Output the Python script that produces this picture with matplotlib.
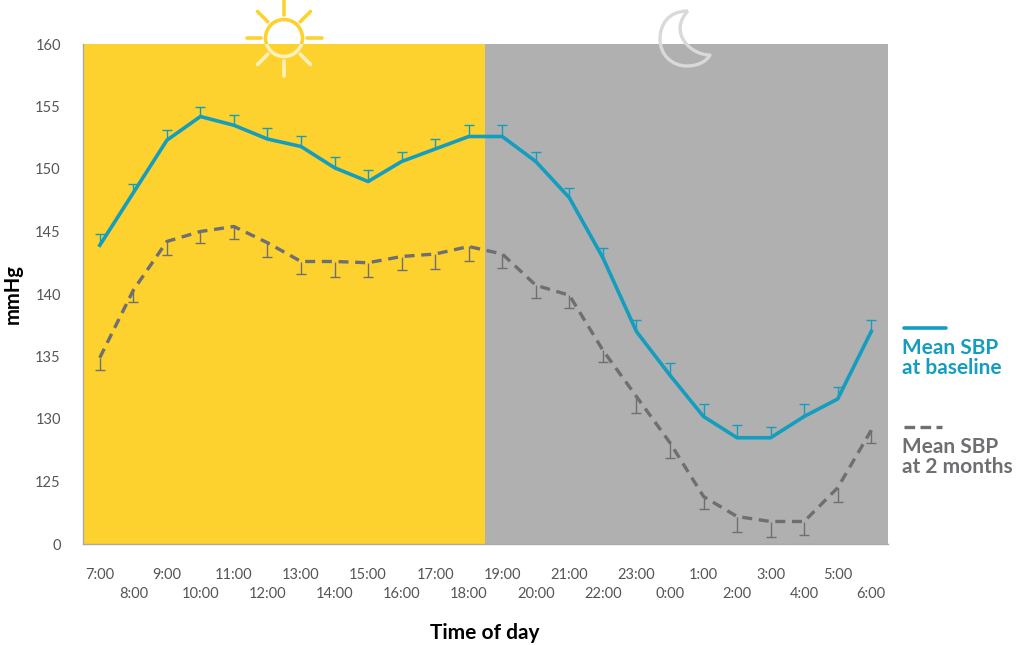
import numpy as np
import matplotlib
matplotlib.use('Agg')
import matplotlib.pyplot as plt
from matplotlib.patches import Circle, PathPatch, Rectangle
from matplotlib.path import Path

plt.rcParams['font.family'] = ['Lato', 'DejaVu Sans']

hours = ['7:00', '8:00', '9:00', '10:00', '11:00', '12:00', '13:00', '14:00',
         '15:00', '16:00', '17:00', '18:00', '19:00', '20:00', '21:00', '22:00',
         '23:00', '0:00', '1:00', '2:00', '3:00', '4:00', '5:00', '6:00']

# mmHg
baseline = [143.9, 148.1, 152.3, 154.2, 153.5, 152.4, 151.8, 150.1,
            149.0, 150.6, 151.6, 152.6, 152.6, 150.6, 147.7, 142.9,
            137.0, 133.5, 130.2, 128.5, 128.5, 130.2, 131.6, 137.0]
baseline_err = [0.9, 0.7, 0.8, 0.8, 0.8, 0.9, 0.8, 0.9,
                0.9, 0.8, 0.8, 0.9, 0.9, 0.8, 0.8, 0.8,
                0.9, 1.0, 1.0, 1.0, 0.9, 1.0, 1.0, 0.9]
two_months = [134.9, 140.3, 144.2, 145.0, 145.4, 144.1, 142.6, 142.6,
              142.5, 143.0, 143.2, 143.8, 143.2, 140.7, 139.9, 135.5,
              131.8, 128.1, 123.8, 122.2, 121.8, 121.8, 124.5, 129.1]
two_months_err = [1.0, 0.9, 1.1, 0.9, 1.0, 1.1, 1.0, 1.2,
                  1.1, 1.1, 1.2, 1.2, 1.1, 1.0, 1.0, 0.9,
                  1.3, 1.2, 1.0, 1.2, 1.2, 1.1, 1.1, 1.0]

y_ticks = [120, 125, 130, 135, 140, 145, 150, 155, 160]
y_labels = ['0', '125', '130', '135', '140', '145', '150', '155', '160']

BLUE = '#149dbe'
GREY = '#6f6e72'
TEXT = '#555555'

fig = plt.figure(figsize=(10.24, 6.45), dpi=100)
ax = fig.add_axes([83 / 1024, 1 - 544 / 645, 805 / 1024, 500 / 645])

x = np.arange(len(hours))
ax.axvspan(-0.5, 11.5, color='#fdd22e', lw=0)
ax.axvspan(11.5, 23.5, color='#b0b0b0', lw=0)

# one sided bars: drop the cap that sits on the line itself
_, caps, _ = ax.errorbar(x, baseline, yerr=[np.zeros(len(x)), baseline_err], fmt='none',
                         ecolor=BLUE, elinewidth=1, capsize=3.6, capthick=1)
caps[0].set_visible(False)
ax.plot(x, baseline, color=BLUE, lw=2.6, solid_joinstyle='round')
_, caps, _ = ax.errorbar(x, two_months, yerr=[two_months_err, np.zeros(len(x))], fmt='none',
                         ecolor=GREY, elinewidth=1, capsize=3.6, capthick=1)
caps[1].set_visible(False)
ax.plot(x, two_months, color=GREY, lw=2.4, dashes=(3, 2))

ax.set_xlim(-0.5, 23.5)
ax.set_ylim(120, 160)
ax.set_yticks(y_ticks)
ax.set_yticklabels(y_labels, fontsize=10.5, color=TEXT)
ax.set_xticks(x[::2])
ax.set_xticklabels(hours[::2], fontsize=10.5, color=TEXT)
ax.set_xticks(x[1::2], minor=True)
ax.set_xticklabels(hours[1::2], minor=True, fontsize=10.5, color=TEXT)
ax.tick_params(axis='both', which='both', length=0)
ax.tick_params(axis='x', which='major', pad=17)
ax.tick_params(axis='x', which='minor', pad=31)
ax.tick_params(axis='y', pad=16)
for side in ['top', 'right']:
    ax.spines[side].set_visible(False)
for side in ['left', 'bottom']:
    ax.spines[side].set_color('#aaaaaa')
    ax.spines[side].set_linewidth(1)

# overlay in pixel coordinates for icons, legend and axis titles
ov = fig.add_axes([0, 0, 1, 1])
ov.set_xlim(0, 1024)
ov.set_ylim(645, 0)
ov.axis('off')


def draw_sun(colour, clip):
    cx, cy = 284, 38
    artists = [ov.add_patch(Circle((cx, cy), 18.5, fill=False, ec=colour, lw=2.6))]
    for a in np.arange(8) * np.pi / 4:
        artists += ov.plot([cx + 23 * np.cos(a), cx + 37.5 * np.cos(a)],
                           [cy + 23 * np.sin(a), cy + 37.5 * np.sin(a)],
                           color=colour, lw=2.6, solid_capstyle='round')
    for art in artists:
        art.set_clip_path(Rectangle(clip[:2], clip[2], clip[3], transform=ov.transData))


draw_sun('#fdd22e', (200, 0, 170, 44))
draw_sun('#fff0bd', (200, 44, 170, 50))

moon = Path([(688, 11), (668, 11), (660, 25), (660, 39),
             (660, 55), (672, 66), (687, 66),
             (697, 66), (706, 62), (710, 55),
             (690, 55), (668, 32), (688, 11)],
            [Path.MOVETO] + [Path.CURVE4] * 12)
ov.add_patch(PathPatch(moon, fill=False, ec='#d9d9d9', lw=2.4, joinstyle='round'))

ov.plot([904, 946], [327.5, 327.5], color=BLUE, lw=2.6, solid_capstyle='round')
ov.text(902, 348, 'Mean SBP', color=BLUE, fontsize=15, fontweight='bold', va='center')
ov.text(902, 368, 'at baseline', color=BLUE, fontsize=15, fontweight='bold', va='center')
ov.plot([904, 942], [427, 427], color=GREY, lw=2.4, dashes=(3.2, 1.6))
ov.text(902, 447, 'Mean SBP', color=GREY, fontsize=15, fontweight='bold', va='center')
ov.text(902, 467, 'at 2 months', color=GREY, fontsize=15, fontweight='bold', va='center')

ov.text(13, 294, 'mmHg', color='black', fontsize=14.5, fontweight='bold',
        rotation=90, ha='center', va='center')
ov.text(485, 633, 'Time of day', color='black', fontsize=15, fontweight='bold',
        ha='center', va='center')

fig.savefig('out.png', dpi=100)
